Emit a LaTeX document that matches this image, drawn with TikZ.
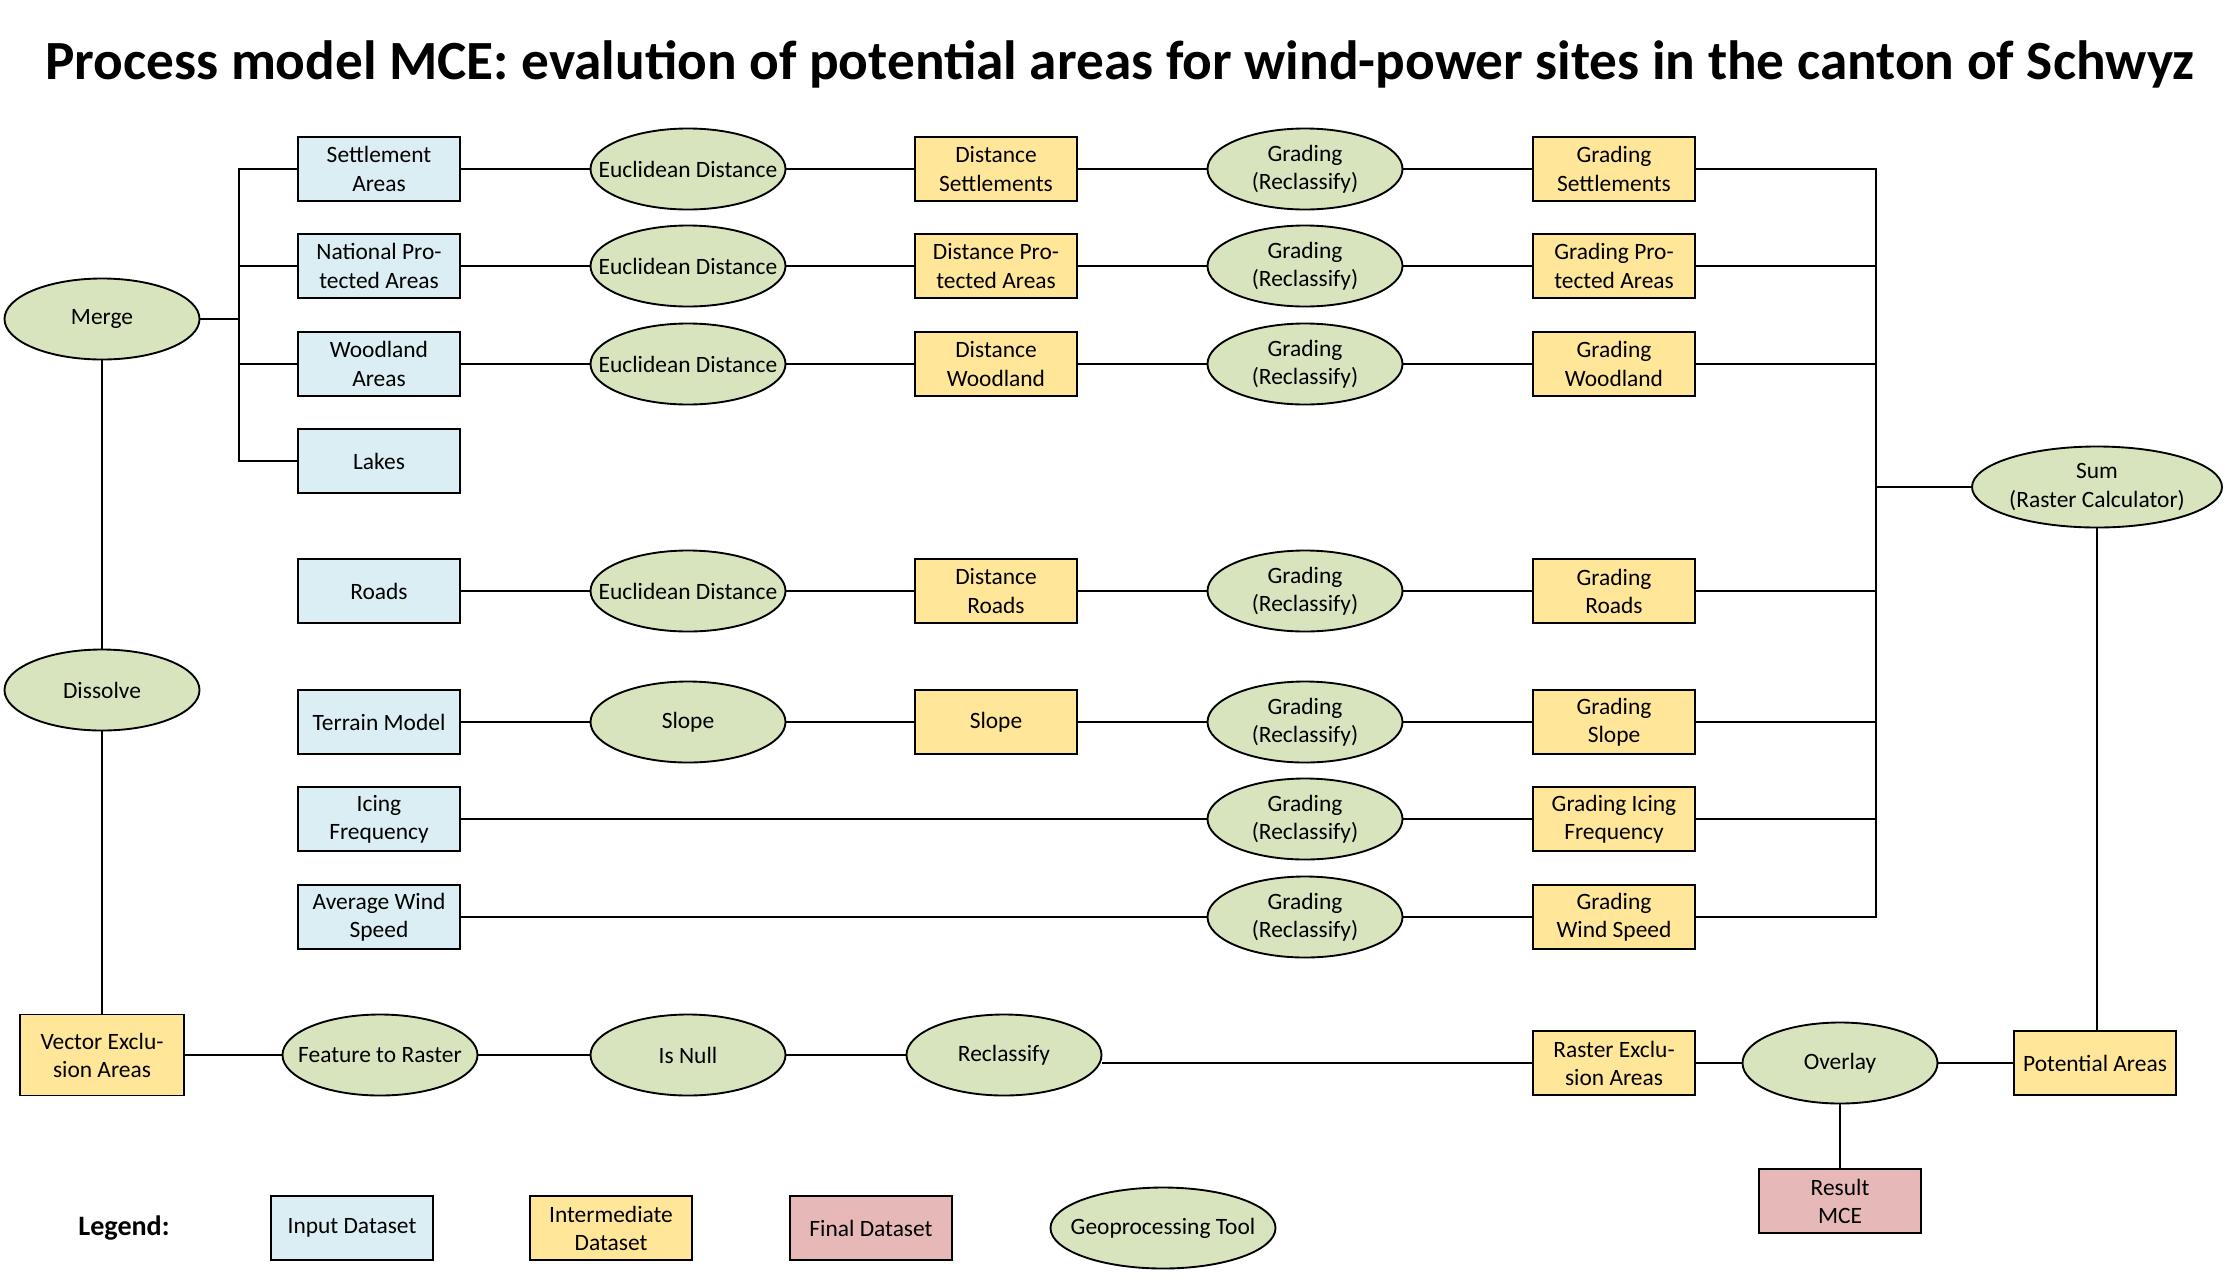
\documentclass[tikz,border=0pt]{standalone}
\usepackage{fontspec}
\setmainfont{Carlito}
\usetikzlibrary{shapes.geometric, positioning}
\definecolor{inputx}{HTML}{DAEEF3}
\definecolor{interx}{HTML}{FFE699}
\definecolor{finalx}{HTML}{E6B9B8}
\definecolor{toolx}{HTML}{D7E4BD}

\begin{document}
\begin{tikzpicture}[
      x=0.15mm, y=-0.15mm,
      font=\fontsize{10}{12}\selectfont,
      box/.style={rectangle, draw, line width=0.8pt, align=center,
                  minimum width=24.3mm, minimum height=9.6mm, inner sep=1pt},
      input/.style={box, fill=inputx},
      inter/.style={box, fill=interx},
      final/.style={box, fill=finalx},
      tool/.style={ellipse, draw, line width=0.8pt, fill=toolx, align=center,
                   minimum width=29.25mm, minimum height=12.15mm,
                   inner xsep=-4mm, inner ysep=0pt},
      link/.style={line width=0.8pt}
    ]
    \useasboundingbox (0,0) rectangle (2232,1276);
    \node[font=\fontsize{23.6}{28}\selectfont\bfseries] (title) at (1120,64)
      {Process model MCE: evalution of potential areas for wind-power sites in the canton of Schwyz};

    % left column
    \node[tool]  (merge)    at (102,319)  {Merge};
    \node[tool]  (dissolve) at (102,690)  {Dissolve};
    \node[inter, minimum width=24.6mm, minimum height=12.15mm] (vexcl) at (102,1055) {Vector Exclu-\\sion Areas};

    % input datasets
    \node[input] (settle) at (379,169) {Settlement\\Areas};
    \node[input] (prot)   at (379,266) {National Pro-\\tected Areas};
    \node[input] (wood)   at (379,364) {Woodland\\Areas};
    \node[input] (lakes)  at (379,461) {Lakes};
    \node[input] (roads)  at (379,591) {Roads};
    \node[input] (terrain) at (379,722) {Terrain Model};
    \node[input] (icing)  at (379,819) {Icing\\Frequency};
    \node[input] (wind)   at (379,917) {Average Wind\\Speed};

    % distance / slope tools
    \node[tool]  (eset)   at (688,169) {Euclidean Distance};
    \node[tool]  (eprot)  at (688,266) {Euclidean Distance};
    \node[tool]  (ewood)  at (688,364) {Euclidean Distance};
    \node[tool]  (eroads) at (688,591) {Euclidean Distance};
    \node[tool]  (slope)  at (688,722) {Slope};

    \node[inter] (dset)   at (996,169) {Distance\\Settlements};
    \node[inter] (dprot)  at (996,266) {Distance Pro-\\tected Areas};
    \node[inter] (dwood)  at (996,364) {Distance\\Woodland};
    \node[inter] (droads) at (996,591) {Distance\\Roads};
    \node[inter] (dslope) at (996,722) {Slope};

    % grading
    \node[tool]  (rset)   at (1305,169) {Grading\\(Reclassify)};
    \node[tool]  (rprot)  at (1305,266) {Grading\\(Reclassify)};
    \node[tool]  (rwood)  at (1305,364) {Grading\\(Reclassify)};
    \node[tool]  (rroads) at (1305,591) {Grading\\(Reclassify)};
    \node[tool]  (rslope) at (1305,722) {Grading\\(Reclassify)};
    \node[tool]  (ricing) at (1305,819) {Grading\\(Reclassify)};
    \node[tool]  (rwind)  at (1305,917) {Grading\\(Reclassify)};

    \node[inter] (gset)   at (1614,169) {Grading\\Settlements};
    \node[inter] (gprot)  at (1614,266) {Grading Pro-\\tected Areas};
    \node[inter] (gwood)  at (1614,364) {Grading\\Woodland};
    \node[inter] (groads) at (1614,591) {Grading\\Roads};
    \node[inter] (gslope) at (1614,722) {Grading\\Slope};
    \node[inter] (gicing) at (1614,819) {Grading Icing\\Frequency};
    \node[inter] (gwind)  at (1614,917) {Grading\\Wind Speed};

    \node[tool, minimum width=37.5mm] (sum) at (2097,487) {Sum\\(Raster Calculator)};

    % exclusion chain
    \node[tool]  (f2r)     at (380,1055)  {Feature to Raster};
    \node[tool]  (isnull)  at (688,1055)  {Is Null};
    \node[tool]  (reclass) at (1004,1055) {Reclassify};
    \node[inter] (rexcl)   at (1614,1063) {Raster Exclu-\\sion Areas};
    \node[tool]  (overlay) at (1840,1063) {Overlay};
    \node[inter] (potent)  at (2095,1063) {Potential Areas};
    \node[final] (result)  at (1840,1201) {Result\\MCE};

    % legend
    \node[font=\fontsize{12}{14}\selectfont\bfseries] (legend) at (124,1228) {Legend:};
    \node[input] (linput) at (352,1228)  {Input Dataset};
    \node[inter] (linter) at (611,1228)  {Intermediate\\Dataset};
    \node[final] (lfinal) at (871,1228)  {Final Dataset};
    \node[tool, minimum width=33.75mm] (ltool) at (1163,1228) {Geoprocessing Tool};

    \coordinate (lbus) at (239,0);
    \coordinate (rbus) at (1876,0);

    % connectors
    \draw[link] (merge.east) -- (merge -| lbus);
    \draw[link] (settle.west) -- (settle -| lbus) -- (lakes -| lbus) -- (lakes.west);
    \draw[link] (prot.west) -- (prot -| lbus);
    \draw[link] (wood.west) -- (wood -| lbus);
    \draw[link] (merge) -- (dissolve);
    \draw[link] (dissolve) -- (vexcl);

    \draw[link] (settle) -- (eset) -- (dset) -- (rset) -- (gset);
    \draw[link] (prot) -- (eprot) -- (dprot) -- (rprot) -- (gprot);
    \draw[link] (wood) -- (ewood) -- (dwood) -- (rwood) -- (gwood);
    \draw[link] (roads) -- (eroads) -- (droads) -- (rroads) -- (groads);
    \draw[link] (terrain) -- (slope) -- (dslope) -- (rslope) -- (gslope);
    \draw[link] (icing) -- (ricing) -- (gicing);
    \draw[link] (wind) -- (rwind) -- (gwind);

    \draw[link] (gset.east) -- (gset -| rbus) -- (gwind -| rbus) -- (gwind.east);
    \draw[link] (gprot.east) -- (gprot -| rbus);
    \draw[link] (gwood.east) -- (gwood -| rbus);
    \draw[link] (groads.east) -- (groads -| rbus);
    \draw[link] (gslope.east) -- (gslope -| rbus);
    \draw[link] (gicing.east) -- (gicing -| rbus);
    \draw[link] (sum.west) -- (sum -| rbus);
    \draw[link] (sum.south) -- (sum.south |- potent.north);

    \draw[link] (vexcl) -- (f2r) -- (isnull) -- (reclass);
    \draw[link] (rexcl.west) -- (rexcl.west -| reclass.east);
    \draw[link] (rexcl) -- (overlay) -- (potent);
    \draw[link] (overlay) -- (result);
  \end{tikzpicture}
\end{document}
